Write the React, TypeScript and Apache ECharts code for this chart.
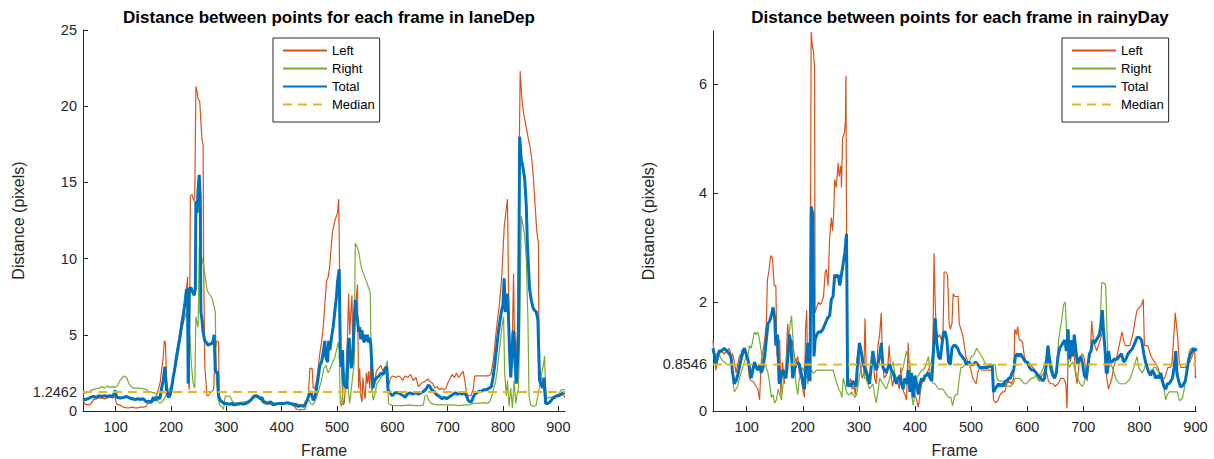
import React, { useEffect, useRef } from "react";
import * as echarts from "echarts";

const seriesNames = ["Left", "Right", "Total", "Median"];
const xTicks = [100, 200, 300, 400, 500, 600, 700, 800, 900];
const laneYTicks = [0, 1.2462, 5, 10, 15, 20, 25];
const rainYTicks = [0, 0.8546, 2, 4, 6];
const laneRange = [41, 912];
const rainRange = [40, 901];
const laneMedian = 1.2462;
const rainMedian = 0.8546;

const laneTotal = [[41,0.8],[45,0.75],[50,0.8],[55,0.9],[60,0.95],[65,0.9],[70,1.0],[75,0.95],[80,1.0],[85,0.95],[90,1.0],[95,0.95],[99,1.35],[102,0.9],[108,0.85],[115,0.9],[120,0.95],[125,0.85],[130,0.8],[135,0.75],[140,0.8],[145,0.75],[150,0.8],[155,0.6],[160,0.65],[165,0.6],[168,0.9],[172,0.7],[176,0.9],[180,0.8],[183,1.5],[186,2.0],[189,2.9],[192,1.4],[195,0.9],[198,1.0],[201,1.5],[204,2.2],[207,2.8],[210,3.6],[213,4.2],[216,4.8],[219,5.5],[222,6.2],[225,7.0],[228,8.0],[230,7.8],[231,1.8],[233,8.0],[236,8.1],[239,7.8],[242,7.6],[244,8.0],[245,13.8],[247,13.0],[249,14.5],[251,15.5],[253,14.0],[254,6.5],[256,6.0],[258,5.2],[261,4.6],[264,4.5],[267,4.3],[270,4.4],[273,4.4],[276,4.6],[278,5.0],[280,2.7],[282,2.5],[284,2.6],[286,1.0],[289,0.7],[292,0.6],[296,0.5],[300,0.5],[305,0.45],[310,0.5],[315,0.4],[320,0.45],[325,0.5],[330,0.45],[335,0.5],[340,0.6],[345,0.75],[349,0.95],[353,1.0],[357,0.95],[361,0.8],[364,0.9],[368,0.6],[372,0.55],[376,0.5],[380,0.6],[385,0.4],[390,0.45],[395,0.5],[400,0.5],[405,0.5],[410,0.55],[415,0.5],[420,0.45],[425,0.4],[430,0.3],[435,0.35],[440,0.3],[443,0.5],[446,0.7],[449,1.0],[451,1.3],[454,1.1],[457,0.7],[460,0.9],[463,1.5],[466,2.2],[469,3.0],[472,3.2],[475,3.8],[478,4.6],[480,3.5],[483,3.2],[485,4.6],[487,4.0],[490,4.8],[493,5.5],[496,6.5],[499,7.5],[501,8.5],[504,9.3],[506,3.5],[508,2.9],[510,4.0],[512,1.8],[515,1.6],[518,1.5],[520,4.2],[522,4.8],[524,3.5],[526,2.8],[529,4.0],[531,6.0],[533,7.3],[535,6.4],[537,6.0],[539,5.2],[541,5.5],[543,4.7],[545,5.3],[547,4.8],[549,4.5],[551,5.0],[553,4.6],[555,5.0],[557,4.5],[559,4.8],[561,4.4],[563,3.0],[565,1.5],[568,2.0],[572,2.2],[576,2.3],[580,2.5],[584,2.4],[587,2.8],[590,2.9],[592,1.4],[596,1.2],[600,1.0],[605,1.2],[610,1.2],[615,1.1],[620,1.0],[623,0.9],[627,1.1],[632,1.2],[637,1.1],[642,1.2],[647,1.1],[652,1.2],[657,1.3],[662,1.5],[665,1.7],[668,1.6],[671,1.4],[675,1.3],[679,1.1],[683,1.0],[687,0.9],[690,0.8],[694,0.9],[698,0.8],[702,0.9],[706,1.0],[710,1.1],[714,1.2],[718,1.1],[722,1.2],[726,1.1],[730,1.2],[734,1.0],[737,0.7],[740,0.6],[743,0.6],[746,0.9],[749,1.1],[753,1.2],[757,1.3],[761,1.3],[765,1.4],[770,1.4],[775,1.5],[779,1.6],[782,2.2],[785,3.0],[788,4.0],[791,5.0],[794,5.8],[797,6.5],[800,7.0],[802,8.7],[804,6.5],[806,7.0],[808,7.7],[810,6.0],[812,3.7],[814,2.2],[816,3.5],[818,5.2],[820,5.2],[822,3.0],[824,1.8],[826,3.0],[828,5.0],[830,18.0],[833,16.5],[836,16.0],[839,15.3],[842,13.5],[844,11.0],[846,9.5],[848,8.0],[851,7.3],[854,6.8],[857,6.6],[860,6.5],[863,6.0],[866,2.0],[869,1.7],[872,1.5],[874,2.2],[877,0.5],[881,0.5],[885,0.6],[889,0.8],[893,0.9],[897,1.0],[901,1.0],[905,1.1],[909,1.2],[912,1.2]];

const laneLeft = [[41,0.7],[45,0.45],[50,0.4],[55,0.45],[60,0.75],[65,0.8],[70,0.85],[75,0.85],[80,0.8],[85,0.85],[90,0.9],[95,0.85],[98,1.0],[102,0.45],[106,0.4],[110,0.35],[114,0.25],[120,0.2],[125,0.2],[130,0.25],[135,0.2],[140,0.2],[145,0.25],[150,0.25],[155,0.3],[158,0.5],[162,0.5],[166,0.55],[169,0.7],[172,0.9],[175,1.2],[178,1.5],[181,2.0],[183,2.7],[186,3.5],[188,4.6],[190,4.5],[192,2.0],[195,1.0],[198,0.9],[201,1.3],[204,2.0],[207,3.0],[210,3.6],[213,4.5],[216,5.2],[219,6.0],[222,6.5],[225,7.2],[228,8.0],[230,8.8],[231,2.0],[233,1.4],[235,14.1],[238,14.2],[241,13.8],[243,14.0],[245,21.3],[247,21.0],[249,20.5],[252,20.3],[254,19.0],[256,17.8],[258,17.5],[259,10.0],[261,3.0],[263,2.0],[265,1.0],[268,1.0],[271,1.2],[274,1.3],[277,1.4],[280,4.0],[283,4.6],[286,4.5],[287,1.0],[290,0.6],[294,0.5],[298,0.4],[303,0.4],[308,0.4],[313,0.35],[318,0.4],[323,0.4],[328,0.45],[333,0.4],[338,0.5],[343,0.6],[348,0.9],[352,1.0],[356,1.05],[360,0.9],[364,0.6],[368,0.5],[373,0.45],[378,0.5],[383,0.4],[388,0.45],[393,0.5],[398,0.5],[403,0.45],[408,0.5],[413,0.45],[418,0.4],[423,0.3],[427,0.1],[432,0.08],[437,0.1],[442,0.1],[445,0.5],[448,1.0],[451,2.8],[455,2.8],[457,1.5],[460,1.5],[463,2.0],[466,2.8],[469,3.8],[472,4.5],[475,5.5],[477,6.5],[479,7.5],[481,8.5],[484,8.8],[487,9.5],[490,11.0],[492,11.8],[495,12.3],[498,12.7],[501,13.0],[503,13.9],[505,8.5],[507,4.0],[509,2.0],[511,0.4],[513,0.5],[515,1.5],[517,3.0],[519,5.0],[521,7.7],[523,5.0],[525,6.5],[527,7.6],[529,3.0],[531,4.0],[533,6.5],[535,7.5],[537,8.3],[539,1.5],[541,2.8],[543,1.0],[545,0.6],[547,2.2],[549,1.2],[551,0.8],[553,2.5],[555,1.8],[557,2.6],[559,1.5],[561,3.2],[563,1.2],[565,2.5],[568,1.8],[571,2.6],[575,2.8],[579,3.0],[583,2.6],[587,2.9],[590,2.4],[593,1.6],[597,2.2],[601,2.3],[606,2.2],[611,2.3],[615,2.2],[619,2.0],[623,2.3],[628,2.2],[633,2.4],[638,2.0],[643,2.2],[647,1.6],[652,1.8],[657,1.9],[661,2.0],[665,2.1],[669,1.9],[673,1.8],[677,1.5],[681,1.6],[685,1.4],[689,1.5],[693,1.4],[697,1.5],[701,1.9],[704,2.1],[708,2.4],[712,2.2],[716,2.5],[720,2.2],[724,2.4],[728,2.6],[731,2.0],[734,1.2],[738,1.0],[742,1.0],[746,1.4],[749,2.3],[753,2.3],[758,2.3],[763,2.3],[768,2.3],[773,2.3],[778,2.4],[781,3.0],[784,3.8],[787,5.0],[790,6.0],[793,6.8],[796,8.0],[798,9.0],[800,10.5],[802,12.0],[805,13.0],[808,13.9],[810,8.0],[812,4.0],[815,2.5],[817,5.0],[819,9.0],[821,4.0],[823,3.0],[825,4.5],[827,6.0],[829,16.0],[831,22.3],[834,20.5],[837,19.6],[840,19.0],[843,18.4],[846,17.8],[849,17.3],[852,16.5],[855,15.3],[858,13.5],[861,11.8],[864,11.0],[865,3.0],[868,2.4],[871,1.8],[874,1.3],[877,0.8],[880,0.5],[884,0.5],[888,0.7],[892,0.8],[896,0.9],[900,1.0],[904,1.0],[908,1.1],[912,0.9]];

const laneRight = [[41,1.1],[45,1.2],[50,1.2],[55,1.35],[60,1.4],[65,1.45],[70,1.5],[75,1.6],[80,1.5],[85,1.65],[90,1.55],[95,1.6],[100,1.55],[104,1.7],[108,2.0],[112,2.2],[116,2.3],[120,2.2],[124,1.8],[128,1.6],[132,1.5],[138,1.5],[144,1.5],[150,1.45],[156,1.4],[160,1.25],[165,1.2],[170,1.2],[174,1.1],[177,0.6],[180,0.5],[184,0.6],[188,0.8],[192,1.1],[196,1.4],[200,1.6],[204,2.1],[208,2.8],[212,3.5],[216,4.5],[220,5.5],[224,6.0],[228,6.5],[231,5.7],[234,5.0],[237,3.0],[240,1.8],[243,1.5],[245,6.2],[247,5.8],[249,5.5],[251,10.8],[253,10.5],[256,10.0],[259,9.5],[262,8.8],[265,8.0],[268,7.7],[271,7.6],[274,7.4],[277,7.0],[280,6.5],[282,2.0],[285,0.8],[288,0.4],[292,0.3],[295,0.1],[298,1.0],[302,0.95],[306,1.0],[310,0.7],[315,0.5],[320,0.55],[325,0.55],[330,0.6],[335,0.6],[340,0.65],[345,0.7],[350,0.85],[355,0.9],[360,0.85],[365,0.6],[370,0.6],[375,0.55],[380,0.6],[385,0.55],[390,0.5],[395,0.5],[400,0.55],[405,0.5],[410,0.55],[415,0.5],[420,0.5],[425,0.5],[430,0.45],[435,0.4],[440,0.4],[444,0.45],[448,0.8],[452,0.5],[456,0.4],[460,0.6],[464,1.0],[468,1.5],[472,2.0],[476,2.8],[480,3.0],[484,2.5],[488,2.8],[492,3.2],[496,3.5],[499,4.0],[502,4.5],[504,4.0],[506,0.5],[508,0.3],[511,1.5],[514,2.5],[517,2.0],[520,1.5],[523,0.5],[526,1.5],[529,2.5],[531,3.0],[533,11.0],[536,10.8],[539,10.5],[542,9.8],[545,9.3],[548,9.0],[551,8.7],[554,8.4],[557,8.1],[560,7.8],[562,3.0],[565,0.7],[568,1.0],[572,1.8],[576,2.0],[580,2.2],[584,2.5],[588,2.9],[591,3.3],[593,0.5],[597,0.4],[602,0.35],[610,0.35],[620,0.35],[630,0.4],[640,0.35],[650,0.35],[656,0.4],[659,1.0],[663,1.0],[666,0.7],[670,0.5],[675,0.45],[680,0.4],[690,0.4],[700,0.4],[710,0.4],[720,0.35],[730,0.4],[740,0.4],[746,0.5],[755,0.5],[765,0.55],[773,0.5],[777,0.7],[780,1.0],[783,1.5],[786,1.8],[789,2.5],[792,3.5],[795,4.5],[798,5.5],[801,6.2],[803,2.5],[806,1.0],[808,2.0],[811,0.3],[814,1.5],[817,0.2],[820,2.0],[823,0.5],[826,1.2],[828,1.5],[830,5.0],[833,12.8],[836,12.2],[839,11.5],[842,10.0],[845,6.0],[847,1.0],[850,0.4],[855,0.3],[860,0.4],[863,1.0],[867,1.8],[870,2.5],[873,3.0],[875,3.6],[877,1.5],[879,0.8],[883,0.9],[888,0.9],[893,1.0],[897,1.0],[902,1.2],[906,1.4],[910,1.4],[912,1.4]];

const rainTotal = [[40,1.15],[43,1.0],[45,0.85],[48,1.0],[51,1.1],[55,1.1],[60,1.15],[65,1.1],[69,1.05],[72,1.0],[75,0.7],[78,0.5],[81,0.55],[84,0.65],[87,0.8],[90,0.95],[93,1.1],[96,1.15],[99,1.05],[102,0.95],[105,0.8],[108,0.6],[111,0.75],[114,0.9],[117,0.8],[120,0.75],[123,0.85],[126,0.7],[129,0.8],[132,1.0],[135,1.3],[138,1.6],[141,1.65],[144,1.75],[147,1.9],[150,1.7],[152,1.2],[155,1.4],[158,0.5],[161,0.6],[164,0.75],[167,0.7],[170,0.6],[173,0.9],[176,1.4],[179,1.25],[182,0.6],[185,0.75],[188,0.85],[191,0.9],[194,0.85],[197,0.7],[200,0.55],[203,0.4],[206,0.9],[209,1.25],[211,0.6],[213,0.55],[215,3.75],[218,3.6],[220,1.0],[222,1.3],[225,1.4],[228,1.45],[232,1.45],[236,1.5],[240,1.6],[244,1.7],[248,1.75],[251,2.05],[254,2.1],[257,2.5],[260,2.45],[263,2.5],[266,2.3],[269,2.5],[272,2.7],[275,2.9],[278,3.25],[280,0.45],[283,0.5],[286,0.45],[289,0.55],[292,0.5],[295,0.45],[298,0.9],[301,1.25],[304,1.1],[307,0.9],[310,0.8],[313,0.7],[316,0.6],[319,0.5],[322,0.8],[325,1.1],[328,0.9],[331,0.75],[334,0.85],[337,1.0],[340,1.25],[343,0.8],[346,0.75],[349,0.7],[352,0.8],[355,0.85],[358,0.75],[361,0.7],[364,0.6],[367,0.5],[370,0.6],[373,0.65],[376,0.5],[379,0.4],[382,0.6],[385,0.5],[388,0.75],[391,0.35],[394,0.7],[397,0.25],[400,0.65],[403,0.5],[406,0.3],[409,0.5],[412,0.6],[415,0.55],[418,0.65],[421,0.65],[424,0.7],[427,0.6],[430,0.55],[433,1.1],[436,1.7],[439,1.25],[442,1.0],[445,0.95],[448,1.2],[451,1.45],[454,1.45],[457,1.3],[460,0.9],[463,0.85],[466,1.15],[469,1.2],[472,1.2],[476,1.15],[480,1.05],[484,1.0],[488,0.95],[492,0.85],[496,0.9],[500,0.85],[504,0.85],[508,0.9],[512,0.85],[516,0.8],[520,0.8],[525,0.8],[530,0.8],[535,0.85],[538,0.8],[540,0.35],[543,0.4],[546,0.45],[549,0.5],[552,0.45],[555,0.5],[558,0.45],[561,0.55],[564,0.55],[567,0.6],[570,0.6],[573,0.7],[576,0.75],[579,1.0],[582,1.05],[585,1.0],[588,1.05],[591,1.0],[594,0.95],[597,0.9],[600,0.9],[604,0.8],[608,0.75],[612,0.75],[616,0.7],[620,0.65],[624,0.6],[628,0.55],[631,0.6],[634,0.85],[637,1.2],[640,0.9],[643,0.75],[646,0.65],[649,0.6],[652,0.7],[655,1.0],[658,1.15],[661,1.2],[664,1.25],[667,1.3],[670,1.1],[673,1.5],[675,0.95],[678,1.3],[681,1.0],[684,1.4],[687,1.1],[690,0.85],[693,0.95],[696,1.0],[699,0.85],[702,0.65],[705,0.6],[708,0.8],[711,1.05],[714,1.1],[717,1.3],[720,1.25],[723,1.3],[726,1.35],[729,1.4],[731,1.5],[734,1.85],[736,1.5],[739,1.1],[741,0.7],[743,0.7],[745,1.1],[748,0.9],[751,0.9],[755,0.95],[760,0.95],[764,1.0],[768,1.05],[772,0.9],[776,0.95],[780,1.05],[784,1.1],[788,1.15],[792,1.25],[796,1.35],[800,1.35],[804,1.3],[808,1.05],[811,0.9],[814,0.8],[817,0.7],[820,0.65],[823,0.75],[826,0.7],[829,0.6],[832,0.65],[835,0.6],[838,0.7],[841,0.55],[844,0.45],[847,0.4],[850,0.5],[853,0.5],[856,0.55],[859,0.6],[862,0.8],[865,1.1],[867,0.7],[870,0.55],[873,0.45],[876,0.45],[879,0.5],[882,0.55],[885,0.75],[888,0.95],[891,1.05],[894,1.1],[897,1.15],[900,1.1],[901,1.15]];

const rainLeft = [[40,1.3],[42,1.0],[45,0.75],[48,0.9],[51,1.05],[55,1.1],[60,1.05],[65,1.1],[69,1.15],[72,1.05],[75,1.05],[78,0.9],[81,0.7],[84,0.85],[87,1.0],[90,1.05],[93,1.0],[96,1.1],[99,1.05],[102,0.9],[105,0.6],[108,0.55],[111,0.55],[114,0.5],[117,0.45],[120,0.4],[123,0.2],[126,0.9],[129,1.1],[132,1.3],[135,1.6],[137,2.4],[140,2.6],[143,2.85],[146,2.8],[149,2.3],[152,2.3],[154,1.0],[157,1.3],[159,1.3],[161,0.3],[164,0.9],[167,0.5],[170,0.8],[173,1.6],[176,1.2],[179,1.0],[182,1.3],[185,1.0],[188,0.9],[191,1.0],[194,0.7],[197,0.6],[200,0.4],[203,0.25],[205,1.5],[207,1.85],[209,0.5],[211,1.0],[213,0.7],[215,6.95],[217,6.7],[219,6.6],[221,6.3],[222,1.8],[225,1.9],[228,2.0],[231,1.95],[234,2.0],[237,2.1],[240,2.55],[242,2.6],[245,2.3],[248,3.2],[251,3.55],[253,3.3],[255,3.6],[257,4.25],[260,4.1],[263,4.55],[265,4.3],[268,4.5],[269,4.1],[271,5.0],[274,5.1],[276,5.3],[277,6.15],[279,0.6],[282,0.5],[285,0.6],[288,0.4],[291,0.45],[294,0.3],[297,1.0],[300,1.0],[303,0.8],[306,0.6],[309,0.7],[311,1.7],[313,0.8],[316,0.7],[319,0.55],[322,0.9],[325,1.1],[328,0.6],[331,0.5],[334,1.2],[337,1.4],[340,1.8],[342,0.9],[345,0.6],[348,0.65],[351,0.7],[354,1.2],[357,0.7],[360,0.45],[363,0.6],[366,0.5],[369,0.55],[372,0.4],[375,0.8],[378,0.4],[382,0.3],[385,0.2],[388,1.25],[391,0.5],[394,0.4],[397,0.5],[400,0.3],[403,0.2],[406,0.07],[409,0.3],[412,0.5],[415,0.55],[418,0.6],[421,0.7],[424,0.75],[427,0.85],[430,0.9],[432,1.2],[434,2.9],[436,2.0],[438,1.5],[441,1.35],[444,1.4],[447,1.3],[450,1.4],[452,2.55],[455,2.55],[458,2.5],[461,1.6],[463,1.5],[466,1.6],[468,2.15],[471,2.1],[474,2.1],[477,2.1],[479,1.6],[482,1.5],[485,1.4],[488,1.2],[491,1.0],[494,0.9],[497,0.85],[500,0.75],[503,0.6],[506,0.55],[509,0.5],[512,0.7],[515,0.8],[519,0.75],[524,0.75],[529,0.75],[534,0.75],[538,0.75],[540,0.2],[544,0.15],[548,0.2],[552,0.3],[556,0.35],[560,0.35],[564,0.5],[568,0.55],[572,0.5],[576,0.6],[578,1.5],[581,1.4],[583,1.55],[586,1.3],[589,1.3],[592,1.25],[595,1.0],[598,0.9],[602,0.9],[606,0.85],[610,0.8],[614,0.75],[618,0.6],[622,0.55],[626,0.65],[630,0.7],[634,0.75],[638,0.55],[642,0.5],[646,0.5],[650,0.45],[655,0.5],[660,0.6],[665,0.6],[669,0.5],[671,0.05],[673,1.0],[675,1.3],[677,0.9],[680,1.1],[683,1.25],[686,0.7],[689,0.5],[692,0.8],[695,1.0],[698,1.05],[701,1.0],[704,0.8],[707,0.55],[710,0.9],[713,1.1],[715,1.65],[718,1.3],[721,1.2],[724,1.1],[727,1.2],[730,1.3],[733,1.4],[736,1.5],[739,1.0],[742,0.6],[745,0.4],[748,0.5],[751,0.6],[754,0.8],[757,0.9],[760,1.0],[763,1.15],[766,1.3],[769,1.45],[772,1.3],[775,1.2],[779,1.2],[783,1.2],[787,1.35],[790,1.5],[793,1.7],[796,1.85],[800,1.9],[804,1.95],[807,2.05],[809,1.2],[812,1.2],[815,1.2],[818,1.1],[821,1.0],[824,0.95],[827,0.9],[830,0.85],[833,0.8],[836,0.7],[839,0.6],[842,0.6],[845,0.6],[848,0.7],[851,0.8],[855,0.8],[858,0.85],[861,1.3],[864,1.8],[866,1.6],[868,1.4],[871,0.9],[874,0.8],[878,0.8],[882,0.8],[886,0.85],[890,0.9],[894,1.0],[897,1.1],[899,1.05],[900,0.6],[901,0.65]];

const rainRight = [[40,1.05],[45,1.05],[50,1.05],[55,0.95],[60,0.9],[65,0.85],[70,0.85],[74,0.9],[76,0.5],[78,0.35],[81,0.4],[84,0.45],[87,0.6],[90,0.7],[93,0.8],[96,0.9],[99,1.0],[102,1.0],[105,1.2],[108,1.15],[111,1.3],[114,1.45],[117,1.4],[120,1.45],[123,1.3],[126,1.1],[129,0.9],[132,0.85],[135,0.8],[138,0.7],[141,0.5],[144,0.25],[147,0.3],[150,0.15],[153,0.2],[156,0.4],[159,0.3],[162,0.2],[165,0.5],[168,0.7],[171,1.0],[174,1.2],[177,1.55],[180,1.75],[182,1.4],[185,0.9],[188,0.5],[191,0.3],[194,0.6],[197,0.7],[200,0.8],[203,0.7],[206,0.6],[209,0.75],[212,0.8],[215,0.75],[218,0.7],[221,0.7],[224,0.75],[230,0.75],[236,0.75],[242,0.75],[248,0.75],[254,0.75],[258,0.6],[261,0.5],[264,0.4],[267,0.35],[270,0.25],[272,0.6],[275,0.5],[278,0.35],[281,0.3],[284,0.3],[287,0.35],[290,0.3],[293,0.25],[296,0.3],[299,0.5],[302,0.7],[305,0.8],[308,1.0],[310,0.6],[313,0.6],[316,0.5],[319,0.4],[322,0.45],[325,0.5],[328,0.3],[331,0.15],[334,0.35],[337,0.6],[340,0.55],[343,0.5],[346,0.45],[349,0.4],[352,0.5],[355,0.6],[358,0.8],[361,0.9],[364,0.7],[367,0.6],[370,0.55],[373,0.55],[376,0.7],[379,0.8],[382,0.95],[385,1.1],[388,0.95],[391,0.9],[394,0.3],[397,0.1],[400,0.35],[403,0.6],[406,0.65],[409,0.7],[412,0.75],[415,0.75],[418,0.8],[421,0.9],[424,1.0],[427,0.7],[430,0.55],[433,0.5],[436,0.5],[439,0.45],[442,0.4],[445,0.4],[450,0.4],[453,0.35],[456,0.3],[460,0.25],[464,0.25],[467,0.1],[470,0.25],[473,0.3],[476,0.3],[479,0.6],[482,0.8],[485,0.8],[489,0.85],[493,0.85],[497,0.9],[500,1.0],[503,1.0],[506,1.05],[510,1.15],[513,1.1],[516,1.05],[519,1.0],[522,0.95],[526,0.85],[530,0.8],[534,0.8],[537,0.8],[540,0.85],[543,0.85],[546,0.6],[550,0.55],[555,0.55],[560,0.5],[565,0.45],[570,0.45],[575,0.5],[579,0.6],[583,0.6],[587,0.6],[591,0.55],[595,0.5],[599,0.5],[603,0.55],[607,0.6],[611,0.6],[615,0.65],[620,0.6],[625,0.7],[629,0.8],[632,0.9],[635,1.0],[638,1.2],[641,1.0],[644,0.85],[647,0.7],[650,0.6],[653,0.8],[656,1.3],[659,1.5],[662,1.7],[665,1.95],[668,2.0],[670,1.5],[672,1.0],[675,0.8],[678,0.85],[681,0.9],[684,0.8],[687,0.7],[690,0.6],[694,0.5],[698,0.45],[701,0.5],[704,0.6],[708,0.8],[711,1.0],[714,1.2],[718,1.25],[722,1.3],[726,1.35],[730,1.6],[733,2.35],[737,2.35],[740,2.3],[742,1.6],[744,1.0],[746,0.8],[749,0.85],[752,0.8],[755,0.7],[758,0.6],[761,0.55],[764,0.5],[767,0.5],[770,0.5],[775,0.5],[780,0.55],[784,0.6],[787,0.7],[790,0.8],[793,0.9],[796,1.0],[799,0.8],[802,0.75],[805,0.7],[808,0.75],[811,0.85],[814,0.8],[817,0.7],[820,0.7],[823,0.75],[826,0.8],[829,0.8],[832,0.75],[835,0.7],[838,0.65],[841,0.65],[844,0.4],[847,0.2],[850,0.3],[853,0.35],[856,0.35],[859,0.35],[862,0.35],[865,0.35],[868,0.35],[871,0.2],[874,0.2],[877,0.25],[880,0.4],[883,0.6],[886,0.8],[889,1.1],[892,1.15],[895,1.15],[898,1.15],[901,1.15]];

const FONT = "'Liberation Sans', Arial, Helvetica, sans-serif";
const AXIS_COLOR = "#262626";
const COLORS = { Left: "#D95319", Right: "#77AC30", Total: "#0072BD", Median: "#EDB120" };

function makeX(gridIndex: number, range: number[]) {
  return {
    type: "value",
    gridIndex,
    min: range[0],
    max: range[1],
    name: "Frame",
    nameLocation: "middle",
    nameGap: 31,
    nameMoveOverlap: false,
    nameTextStyle: { fontSize: 16, color: AXIS_COLOR, fontFamily: FONT },
    axisLine: { show: true, onZero: false, lineStyle: { color: AXIS_COLOR, width: 1 } },
    axisTick: { show: true, inside: true, length: 5, customValues: xTicks, lineStyle: { color: AXIS_COLOR } },
    axisLabel: { customValues: xTicks, color: AXIS_COLOR, fontSize: 14.5, fontFamily: FONT, margin: 8, formatter: (v: number) => String(v) },
    splitLine: { show: false },
  };
}

function makeY(gridIndex: number, max: number, ticks: number[], gap: number) {
  return {
    type: "value",
    gridIndex,
    min: 0,
    max,
    name: "Distance (pixels)",
    nameLocation: "middle",
    nameGap: gap,
    nameMoveOverlap: false,
    nameTextStyle: { fontSize: 16, color: AXIS_COLOR, fontFamily: FONT },
    axisLine: { show: true, lineStyle: { color: AXIS_COLOR, width: 1 } },
    axisTick: { show: true, inside: true, length: 5, customValues: ticks, lineStyle: { color: AXIS_COLOR } },
    axisLabel: { customValues: ticks, color: AXIS_COLOR, fontSize: 14.5, fontFamily: FONT, margin: 6, formatter: (v: number) => String(v) },
    splitLine: { show: false },
  };
}

function makeSeries(idx: number, left: number[][], right: number[][], total: number[][], median: number, range: number[]) {
  const base = { type: "line", xAxisIndex: idx, yAxisIndex: idx, symbol: "none", showSymbol: false, silent: true };
  return [
    { ...base, name: "Left", data: left, lineStyle: { color: COLORS.Left, width: 1.2 }, itemStyle: { color: COLORS.Left } },
    { ...base, name: "Right", data: right, lineStyle: { color: COLORS.Right, width: 1.2 }, itemStyle: { color: COLORS.Right } },
    { ...base, name: "Total", data: total, lineStyle: { color: COLORS.Total, width: 3 }, itemStyle: { color: COLORS.Total } },
    { ...base, name: "Median", data: [[range[0], median], [range[1], median]], lineStyle: { color: COLORS.Median, width: 2, type: [9, 6] }, itemStyle: { color: COLORS.Median } },
  ];
}

function makeLegend(left: number) {
  return {
    left,
    top: 38,
    orient: "vertical",
    data: seriesNames,
    itemWidth: 44,
    itemHeight: 14,
    itemGap: 5,
    padding: [6, 5, 11, 9],
    borderColor: AXIS_COLOR,
    borderWidth: 1,
    backgroundColor: "#fff",
    selectedMode: false,
    itemStyle: { opacity: 0 },
    textStyle: { fontSize: 13, color: "#000", fontFamily: FONT },
  };
}

export default function App() {
  const ref = useRef<HTMLDivElement>(null);
  useEffect(() => {
    if (!ref.current) return;
    const chart = echarts.init(ref.current, undefined, { renderer: "svg" });
    chart.setOption({
      animation: false,
      backgroundColor: "#fff",
      textStyle: { fontFamily: FONT },
      title: [
        { text: "Distance between points for each frame in laneDep", left: 324, top: 4, textAlign: "center", textStyle: { fontSize: 17, fontWeight: "bold", color: "#000", fontFamily: FONT } },
        { text: "Distance between points for each frame in rainyDay", left: 955, top: 4, textAlign: "center", textStyle: { fontSize: 17, fontWeight: "bold", color: "#000", fontFamily: FONT } },
      ],
      legend: [makeLegend(273), makeLegend(1062)],
      grid: [
        { left: 83, right: 649, top: 30, bottom: 48, containLabel: false, outerBoundsMode: "none" },
        { left: 713, right: 18, top: 31, bottom: 48, containLabel: false, outerBoundsMode: "none" },
      ],
      xAxis: [makeX(0, laneRange), makeX(1, rainRange)],
      yAxis: [makeY(0, 25, laneYTicks, 57), makeY(1, 6.97, rainYTicks, 57)],
      series: [
        ...makeSeries(0, laneLeft, laneRight, laneTotal, laneMedian, laneRange),
        ...makeSeries(1, rainLeft, rainRight, rainTotal, rainMedian, rainRange),
      ],
    });
    return () => chart.dispose();
  }, []);
  return <div ref={ref} style={{ position: "fixed", left: 0, top: 0, width: 1214, height: 459 }} />;
}
